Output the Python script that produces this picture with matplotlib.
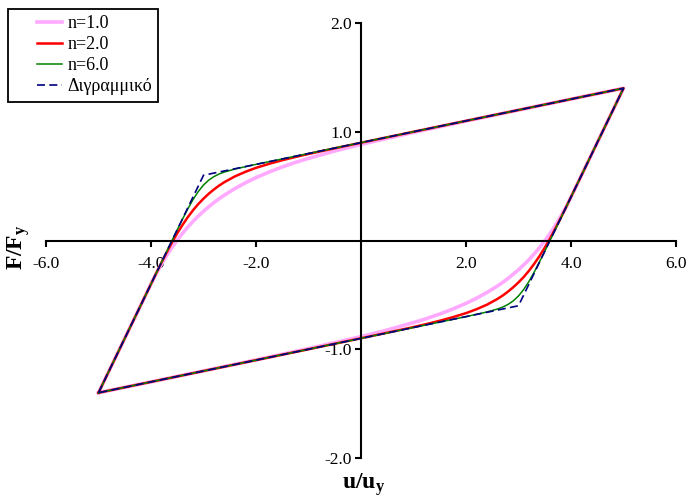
import matplotlib
matplotlib.use('Agg')
import matplotlib.pyplot as plt
from matplotlib.lines import Line2D
from matplotlib.legend_handler import HandlerLine2D
import numpy as np

plt.rcParams['font.family'] = ['Liberation Serif', 'DejaVu Serif']
plt.rcParams['mathtext.fontset'] = 'custom'
plt.rcParams['mathtext.rm'] = 'Liberation Serif'
plt.rcParams['mathtext.bf'] = 'Liberation Serif:bold'
plt.rcParams['mathtext.it'] = 'Liberation Serif:italic'

# loading branch (u/uy, F/Fy); unloading branch is its point reflection
u_load = [-5.0, -4.0, -3.9, -3.8, -3.7, -3.6, -3.5, -3.4, -3.3, -3.2, -3.1, -3.0,
          -2.9, -2.8, -2.7, -2.6, -2.4, -2.2, -2.0, -1.75, -1.5, -1.25, -1.0, -0.5,
          0.0, 1.0, 2.0, 3.0, 4.0, 5.0]
f_n1 = [-1.4, -0.4, -0.304, -0.217, -0.137, -0.063, 0.004, 0.066, 0.123, 0.176, 0.224, 0.269,
        0.310, 0.349, 0.385, 0.418, 0.478, 0.531, 0.578, 0.630, 0.676, 0.718, 0.755, 0.823,
        0.884, 0.994, 1.098, 1.199, 1.300, 1.4]
f_n2 = [-1.4, -0.4, -0.300, -0.202, -0.108, -0.018, 0.066, 0.143, 0.214, 0.278, 0.335, 0.385,
        0.430, 0.470, 0.506, 0.537, 0.590, 0.632, 0.668, 0.705, 0.738, 0.768, 0.796, 0.848,
        0.899, 1.0, 1.1, 1.2, 1.3, 1.4]
f_n6 = [-1.4, -0.4, -0.30, -0.20, -0.10, 0.0, 0.099, 0.196, 0.290, 0.376, 0.450, 0.510,
        0.555, 0.588, 0.612, 0.630, 0.657, 0.679, 0.700, 0.725, 0.750, 0.775, 0.800, 0.850,
        0.900, 1.0, 1.1, 1.2, 1.3, 1.4]

# bilinear model corners
u_bi = [-5.0, -3.0, 5.0, 3.0, -5.0]
f_bi = [-1.4, 0.6, 1.4, -0.6, -1.4]

labels = ['n=1.0', 'n=2.0', 'n=6.0', 'Διγραμμικό']
xticks = [-6.0, -4.0, -2.0, 2.0, 4.0, 6.0]
yticks = [-2.0, -1.0, 1.0, 2.0]


def loop(u, f):
    u = np.asarray(u)
    f = np.asarray(f)
    return np.concatenate([u, -u[1:]]), np.concatenate([f, -f[1:]])


fig = plt.figure(figsize=(6.88, 4.99), dpi=100)
ax = fig.add_axes([46/688, 41/499, 630/688, 435/499])

x1, y1 = loop(u_load, f_n1)
x2, y2 = loop(u_load, f_n2)
x6, y6 = loop(u_load, f_n6)
ax.plot(x1, y1, color='#FFAAFF', lw=2.6, label=labels[0])
ax.plot(x2, y2, color='#FF0000', lw=1.8, label=labels[1])
ax.plot(x6, y6, color='#008000', lw=1.1, label=labels[2])
ax.plot(u_bi, f_bi, color='#000080', lw=1.2, dashes=(4.8, 2.6), label=labels[3])

ax.set_xlim(-6, 6)
ax.set_ylim(-2, 2)
ax.spines['left'].set_position(('data', 0))
ax.spines['bottom'].set_position(('data', 0))
ax.spines['top'].set_visible(False)
ax.spines['right'].set_visible(False)
for s in ['left', 'bottom']:
    ax.spines[s].set_linewidth(1.5)

ax.set_xticks(xticks)
ax.set_xticklabels(['%.1f' % v for v in xticks])
ax.set_yticks(yticks)
ax.set_yticklabels(['%.1f' % v for v in yticks])
ax.tick_params(axis='x', direction='out', length=4.5, width=1.5, pad=7, labelsize=12.5)
ax.tick_params(axis='y', direction='out', length=4.5, width=1.5, pad=2, labelsize=12.5)

fig.text(364/688, 1 - 485/499, r'$\mathbf{u/u_y}$', fontsize=17,
         ha='center', va='center')
fig.text(19/688, 1 - 247/499, r'$\mathbf{F/F_y}$', fontsize=17,
         ha='center', va='center', rotation=90)

leg = ax.legend(loc='upper left', bbox_to_anchor=(8/688, 1 - 9/499),
                bbox_transform=fig.transFigure, borderaxespad=0,
                fontsize=13, handlelength=2.65, handletextpad=0.28,
                labelspacing=0.22, borderpad=0.35, fancybox=False,
                framealpha=1, edgecolor='black',
                handler_map={Line2D: HandlerLine2D(xpad=1.26)})
leg.get_frame().set_linewidth(1.3)

fig.savefig('out.png', dpi=100)
plt.close()
